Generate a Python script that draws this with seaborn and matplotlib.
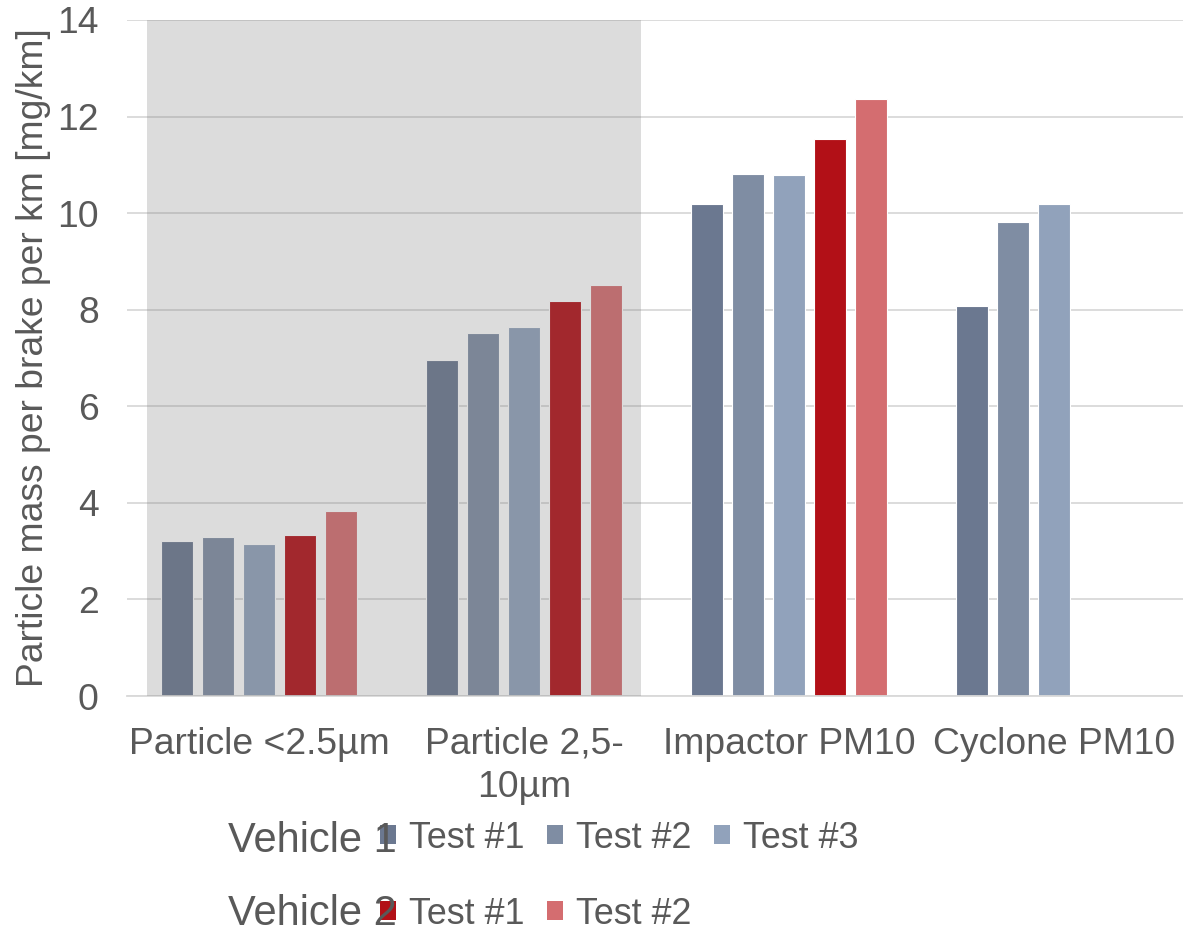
import matplotlib
matplotlib.use("Agg")
import matplotlib.pyplot as plt
import seaborn as sns
import pandas as pd
from matplotlib.patches import Patch

categories = ["Particle <2.5µm", "Particle 2,5-\n10µm", "Impactor PM10", "Cyclone PM10"]
series = ["Vehicle 1 Test #1", "Vehicle 1 Test #2", "Vehicle 1 Test #3",
          "Vehicle 2 Test #1", "Vehicle 2 Test #2"]
v1_test1 = [3.21, 6.96, 10.18, 8.07]
v1_test2 = [3.30, 7.51, 10.81, 9.81]
v1_test3 = [3.15, 7.65, 10.80, 10.19]
v2_test1 = [3.34, 8.18, 11.54, None]
v2_test2 = [3.83, 8.52, 12.37, None]
colors = ["#6B7890", "#7F8DA3", "#91A2BB", "#B21017", "#D46D70"]
y_ticks = [0, 2, 4, 6, 8, 10, 12, 14]

rows = []
for s, vals in zip(series, [v1_test1, v1_test2, v1_test3, v2_test1, v2_test2]):
    for c, v in zip(categories, vals):
        if v is not None:
            rows.append({"category": c, "series": s, "value": v})
df = pd.DataFrame(rows)
pal = dict(zip(series, colors))

sns.set_theme(style="white")
plt.rcParams["font.family"] = ["Liberation Sans", "DejaVu Sans"]
TXT = "#595959"

fig = plt.figure(figsize=(11.83, 9.33), dpi=100)
ax = fig.add_axes([126.5 / 1183, 1 - 696 / 933, 1060 / 1183, 676 / 933])

sns.barplot(data=df, x="category", y="value", hue="series", hue_order=series,
            order=categories, palette=pal, saturation=1, width=0.774, gap=0.22,
            edgecolor="white", linewidth=0.8, legend=False, ax=ax, zorder=2)

ax.set_xlim(-0.5, 3.5)
ax.set_ylim(0, 14)
ax.set_yticks(y_ticks)
ax.grid(axis="y", color="#D9D9D9", lw=1.3, zorder=0)
ax.set_axisbelow(True)
for sp in ["left", "right", "top"]:
    ax.spines[sp].set_visible(False)
ax.spines["bottom"].set_color("#D9D9D9")
ax.spines["bottom"].set_linewidth(1.3)

ax.axvspan(-0.423, 1.442, color=(115 / 255, 115 / 255, 115 / 255), alpha=0.243,
           zorder=3, lw=0)

ax.tick_params(axis="both", length=0, labelsize=26.8, colors=TXT)
ax.tick_params(axis="y", pad=20)
ax.tick_params(axis="x", pad=22)
ax.set_xlabel("")
ax.set_ylabel("Particle mass per brake per km [mg/km]", fontsize=26.8, color=TXT)
ax.yaxis.set_label_coords(-0.071, 0.5)
for lab in ax.get_xticklabels():
    lab.set_linespacing(1.3)

leg_font = 25.8
h1 = [Patch(facecolor=c, edgecolor="none") for c in colors[:3]]
h2 = [Patch(facecolor=c, edgecolor="none") for c in colors[3:]]
common = dict(loc="center left", frameon=False, fontsize=leg_font, labelcolor=TXT,
              handlelength=0.44, handleheight=0.44, handletextpad=0.38,
              columnspacing=0.62, borderpad=0, borderaxespad=0)
fig.legend(h1, ["Test #1", "Test #2", "Test #3"], ncol=3,
           bbox_to_anchor=(380 / 1183, 1 - 838 / 933), **common)
fig.legend(h2, ["Test #1", "Test #2"], ncol=2,
           bbox_to_anchor=(380 / 1183, 1 - 914 / 933), **common)
fig.text(228 / 1183, 1 - 841 / 933, "Vehicle 1", fontsize=30, color=TXT,
         va="center", ha="left", zorder=6)
fig.text(228 / 1183, 1 - 914 / 933, "Vehicle 2", fontsize=30, color=TXT,
         va="center", ha="left", zorder=6)

fig.savefig("out.png", dpi=100)
